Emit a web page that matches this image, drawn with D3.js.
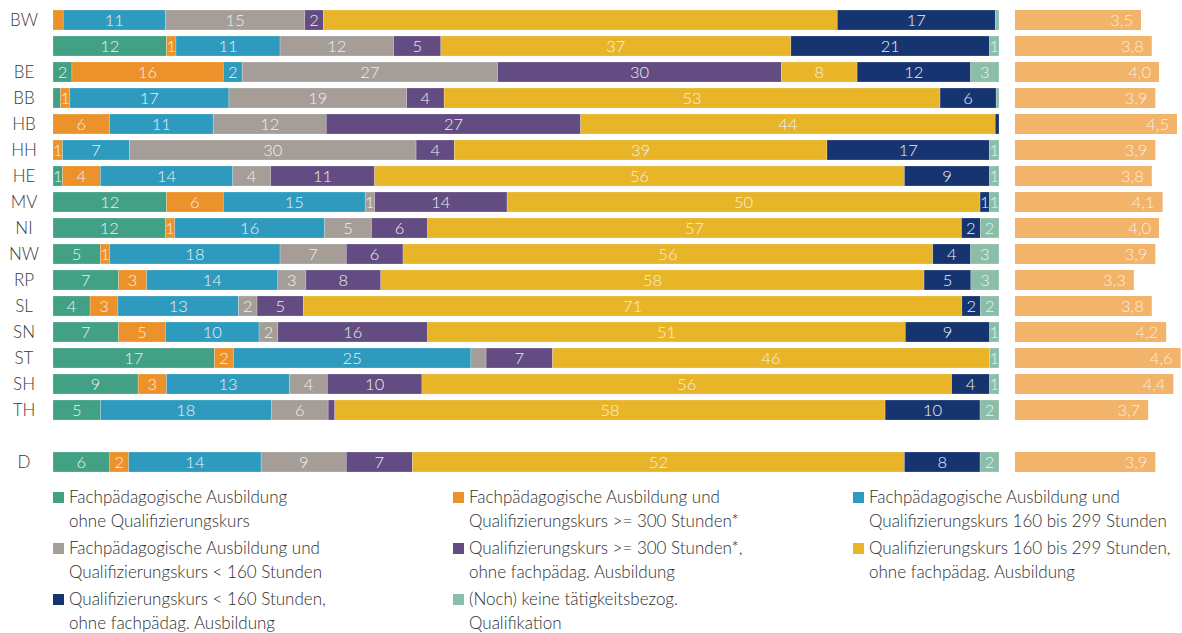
<!DOCTYPE html>
<html>
<head>
<meta charset="utf-8">
<script src="https://cdn.jsdelivr.net/npm/d3@7"></script>
<style>
  body { margin: 0; background: #fff; }
  svg { display: block; font-family: Lato, "Open Sans", sans-serif; }
</style>
</head>
<body>
<div id="chart"></div>
<script>
// row labels (second row has no label in the original)
const rows = ['BW', '', 'BE', 'BB', 'HB', 'HH', 'HE', 'MV', 'NI', 'NW', 'RP', 'SL', 'SN', 'ST', 'SH', 'TH', 'D']

// shares in %, integers are the printed labels, decimals are estimated (unlabelled) slivers
const fachOhne      = [0,    12, 2,  0.8, 0,   0,  1,  12, 12, 5,  7,  4,  7,  17,  9,  5,   6]
const fach300       = [1.1,  1,  16, 1,   6,   1,  4,  6,  1,  1,  3,  3,  5,  2,   3,  0,   2]
const fach160       = [11,   11, 2,  17,  11,  7,  14, 15, 16, 18, 14, 13, 10, 25,  13, 18,  14]
const fachUnter160  = [15,   12, 27, 19,  12,  30, 4,  1,  5,  7,  3,  2,  2,  1.6, 4,  6,   9]
const kurs300       = [2,    5,  30, 4,   27,  4,  11, 14, 6,  6,  8,  5,  16, 7,   10, 0.7, 7]
const kurs160       = [55.3, 37, 8,  53,  44,  39, 56, 50, 57, 56, 58, 71, 51, 46,  56, 58,  52]
const kursUnter160  = [17,   21, 12, 6,   0.4, 17, 9,  1,  2,  4,  5,  2,  9,  0,   4,  10,  8]
const keine         = [0.4,  1,  3,  0.3, 0,   1,  1,  1,  2,  3,  3,  2,  1,  1,   1,  2,   2]

// right hand column
const durchschnitt = [3.5, 3.8, 4.0, 3.9, 4.5, 3.9, 3.8, 4.1, 4.0, 3.9, 3.3, 3.8, 4.2, 4.6, 4.4, 3.7, 3.9]

const seriesKeys = ['fachOhne', 'fach300', 'fach160', 'fachUnter160', 'kurs300', 'kurs160', 'kursUnter160', 'keine']
const seriesData = [fachOhne, fach300, fach160, fachUnter160, kurs300, kurs160, kursUnter160, keine]
const colors = ['#42a085', '#ec922b', '#2e9abd', '#a59e98', '#634c82', '#e8b428', '#163570', '#8bbea9']
const legendLabels = [
  ['Fachpädagogische Ausbildung', 'ohne Qualifizierungskurs'],
  ['Fachpädagogische Ausbildung und', 'Qualifizierungskurs >= 300 Stunden*'],
  ['Fachpädagogische Ausbildung und', 'Qualifizierungskurs 160 bis 299 Stunden'],
  ['Fachpädagogische Ausbildung und', 'Qualifizierungskurs < 160 Stunden'],
  ['Qualifizierungskurs >= 300 Stunden*,', 'ohne fachpädag. Ausbildung'],
  ['Qualifizierungskurs 160 bis 299 Stunden,', 'ohne fachpädag. Ausbildung'],
  ['Qualifizierungskurs < 160 Stunden,', 'ohne fachpädag. Ausbildung'],
  ['(Noch) keine tätigkeitsbezog.', 'Qualifikation']
]

const width = 1182, height = 633

const svg = d3.select('#chart').append('svg')
  .attr('width', width)
  .attr('height', height)

// row slots: 16 Länder, one empty slot, then D
const slot = (i) => i < 16 ? i : i + 1
const y = d3.scaleBand()
  .domain(d3.range(18))
  .range([7, 7 + 18 * 26])
  .paddingInner(6 / 26)
  .paddingOuter(3 / 26)

const x = d3.scaleLinear().domain([0, 1]).range([53, 999])
const x2 = d3.scaleLinear().domain([0, 5]).range([1015, 1195])

const table = rows.map((r, i) => {
  const o = { i: i }
  seriesKeys.forEach((k, j) => { o[k] = seriesData[j][i] })
  return o
})

const stack = d3.stack().keys(seriesKeys).offset(d3.stackOffsetExpand)
const layers = stack(table)

const g = svg.append('g')

layers.forEach((layer, j) => {
  const lg = g.append('g').attr('fill', colors[j])
  lg.selectAll('rect')
    .data(layer.filter(d => d[1] > d[0]))
    .enter().append('rect')
      .attr('x', d => x(d[0]))
      .attr('y', d => y(slot(d.data.i)))
      .attr('width', d => x(d[1]) - x(d[0]))
      .attr('height', y.bandwidth())
      .attr('stroke', '#fff')
      .attr('stroke-opacity', 0.35)
      .attr('stroke-width', 0.6)

  lg.selectAll('text')
    .data(layer.filter(d => Number.isInteger(d.data[layer.key]) && d.data[layer.key] > 0))
    .enter().append('text')
      .attr('x', d => (x(d[0]) + x(d[1])) / 2)
      .attr('y', d => y(slot(d.data.i)) + y.bandwidth() / 2)
      .attr('dy', '0.36em')
      .attr('text-anchor', 'middle')
      .attr('fill', '#f0f0f0')
      .attr('font-size', 16.5)
      .attr('font-weight', 300)
      .text(d => d.data[layer.key])
})

// row labels
g.selectAll('.rowlabel')
  .data(rows)
  .enter().append('text')
    .attr('x', 24)
    .attr('y', (d, i) => y(slot(i)) + y.bandwidth() / 2)
    .attr('dy', '0.36em')
    .attr('text-anchor', 'middle')
    .attr('fill', '#3a3a3a')
    .attr('font-size', 17)
    .attr('font-weight', 300)
    .text(d => d)

// right bars
const fmt = (v) => v.toFixed(1).replace('.', ',')
g.selectAll('.avg')
  .data(durchschnitt)
  .enter().append('rect')
    .attr('x', x2(0))
    .attr('y', (d, i) => y(slot(i)))
    .attr('width', d => x2(d) - x2(0))
    .attr('height', y.bandwidth())
    .attr('fill', '#f2b36b')

g.selectAll('.avglabel')
  .data(durchschnitt)
  .enter().append('text')
    .attr('x', d => x2(d) - 8)
    .attr('y', (d, i) => y(slot(i)) + y.bandwidth() / 2)
    .attr('dy', '0.36em')
    .attr('text-anchor', 'end')
    .attr('fill', '#fbeedd')
    .attr('font-size', 16.5)
    .attr('font-weight', 300)
    .text(d => fmt(d))

// legend, 3 columns
const legend = svg.append('g')
const lx = d3.scaleOrdinal().domain([0, 1, 2]).range([53, 453, 853])
const item = legend.selectAll('g')
  .data(legendLabels)
  .enter().append('g')
    .attr('transform', (d, i) => `translate(${lx(i % 3)},${492 + Math.floor(i / 3) * 51})`)

item.append('rect')
  .attr('width', 11)
  .attr('height', 11)
  .attr('fill', (d, i) => colors[i])

item.append('text')
  .attr('x', 16)
  .attr('y', 11)
  .attr('fill', '#2e2e2e')
  .attr('font-size', 17)
  .attr('font-weight', 300)
  .selectAll('tspan')
  .data(d => d)
  .enter().append('tspan')
    .attr('x', 16)
    .attr('dy', (d, i) => i === 0 ? 0 : 24)
    .text(d => d)
</script>
</body>
</html>
